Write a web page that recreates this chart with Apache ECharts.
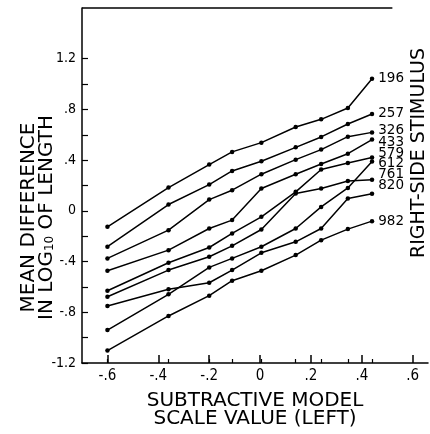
<!DOCTYPE html>
<html>
<head>
<meta charset="utf-8">
<script src="https://cdn.jsdelivr.net/npm/echarts@6/dist/echarts.min.js"></script>
<style>
  html, body { margin: 0; padding: 0; background: #fff; }
  #chart { width: 430px; height: 434px; }
</style>
</head>
<body>
<div id="chart"></div>
<script>
  // subtractive model scale value of each left stimulus
  var xValues = [-0.6, -0.36, -0.2, -0.11, 0.005, 0.14, 0.24, 0.345, 0.44];
  var stimuli = ['196', '257', '326', '433', '579', '612', '761', '820', '982'];

  var s196 = [-0.126, 0.184, 0.365, 0.465, 0.538, 0.661, 0.722, 0.811, 1.042];
  var s257 = [-0.283, 0.05, 0.207, 0.315, 0.391, 0.501, 0.583, 0.685, 0.764];
  var s326 = [-0.375, -0.152, 0.089, 0.163, 0.289, 0.404, 0.483, 0.585, 0.619];
  var s433 = [-0.472, -0.31, -0.139, -0.073, 0.176, 0.289, 0.37, 0.451, 0.562];
  var s579 = [-0.63, -0.409, -0.289, -0.178, -0.047, 0.15, 0.326, 0.378, 0.42];
  var s612 = [-0.94, -0.658, -0.446, -0.375, -0.283, -0.139, 0.031, 0.181, 0.39];
  var s761 = [-0.677, -0.467, -0.362, -0.276, -0.147, 0.137, 0.176, 0.235, 0.245];
  var s820 = [-0.751, -0.618, -0.567, -0.467, -0.331, -0.244, -0.139, 0.098, 0.135];
  var s982 = [-1.102, -0.829, -0.669, -0.551, -0.472, -0.349, -0.231, -0.144, -0.081];
  var meanDiff = [s196, s257, s326, s433, s579, s612, s761, s820, s982];

  var xTickValues = [-0.6, -0.4, -0.2, 0, 0.2, 0.4, 0.6];
  var yLabelValues = [-1.2, -0.8, -0.4, 0, 0.4, 0.8, 1.2];
  var yTickValues = [-1.2, -1.0, -0.8, -0.6, -0.4, -0.2, 0, 0.2, 0.4, 0.6, 0.8, 1.0, 1.2];

  // vertical nudge (px) of the end labels so the stacked names do not collide
  var labelNudge = [0, 0, -2, 2.5, -4.5, 2.5, -5, -8, 0];

  function fmt(v) {
    if (Math.abs(v) < 1e-9) return '0';
    return String(+v.toFixed(1)).replace('0.', '.');
  }

  var chart = echarts.init(document.getElementById('chart'));
  var font = 'DejaVu Sans, sans-serif';
  var narrow = 'Liberation Sans Narrow, DejaVu Sans Condensed, DejaVu Sans, sans-serif';

  var series = stimuli.map(function (name, k) {
    var ys = meanDiff[k];
    return {
      name: name,
      type: 'line',
      symbol: 'circle',
      symbolSize: 4.5,
      animation: false,
      lineStyle: { color: '#000', width: 1.5 },
      itemStyle: { color: '#000' },
      data: xValues.map(function (x, i) {
        var item = { value: [x, ys[i]] };
        if (i === xValues.length - 1) {
          item.label = {
            show: true,
            position: 'right',
            distance: 4,
            offset: [0, labelNudge[k]],
            formatter: name,
            color: '#000',
            fontFamily: font,
            fontSize: 13.5,
            lineHeight: 11
          };
        }
        return item;
      })
    };
  });

  chart.setOption({
    backgroundColor: '#fff',
    animation: false,
    grid: { left: 82, right: 2, top: 8, bottom: 71 },
    xAxis: [{
      type: 'value',
      min: -0.7,
      max: 0.66,
      axisLine: { onZero: false, lineStyle: { color: '#000', width: 1.5 } },
      axisTick: { inside: true, length: 8, customValues: xTickValues, lineStyle: { color: '#000', width: 1.5 } },
      axisLabel: { customValues: xTickValues, formatter: fmt, color: '#000', fontFamily: narrow, fontSize: 15, margin: 6 },
      splitLine: { show: false },
      name: 'SUBTRACTIVE MODEL\nSCALE VALUE (LEFT)',
      nameLocation: 'middle',
      nameGap: 29,
      nameMoveOverlap: false,
      nameTextStyle: { color: '#000', fontFamily: font, fontSize: 20, lineHeight: 18 }
    }, {
      type: 'value',
      min: -0.7,
      max: 0.66,
      position: 'bottom',
      axisLine: { show: false, onZero: false },
      axisTick: { inside: true, length: 4, customValues: xValues, lineStyle: { color: '#000', width: 1.2 } },
      axisLabel: { show: false },
      splitLine: { show: false }
    }],
    yAxis: {
      type: 'value',
      min: -1.2,
      max: 1.6,
      axisLine: { show: true, onZero: false, lineStyle: { color: '#000', width: 1.5 } },
      axisTick: { show: true, inside: true, length: 6, customValues: yTickValues, lineStyle: { color: '#000', width: 1.2 } },
      axisLabel: { customValues: yLabelValues, formatter: fmt, color: '#000', fontFamily: narrow, fontSize: 14, margin: 6 },
      splitLine: { show: false },
      name: 'MEAN DIFFERENCE\nIN LOG{sub|10} OF LENGTH',
      nameLocation: 'middle',
      nameGap: 26,
      nameMoveOverlap: false,
      nameTextStyle: {
        color: '#000', fontFamily: font, fontSize: 20, lineHeight: 18,
        padding: [0, 64, 0, 0],
        rich: { sub: { fontFamily: font, fontSize: 12, verticalAlign: 'bottom', padding: [9, 0, 0, 0] } }
      }
    },
    series: series
  });

  var p0 = chart.convertToPixel({ gridIndex: 0 }, [-0.7, 1.6]);
  var p1 = chart.convertToPixel({ gridIndex: 0 }, [0.52, 1.6]);
  chart.setOption({
    graphic: [{
      type: 'line',
      shape: { x1: p0[0], y1: p0[1], x2: p1[0], y2: p1[1] },
      style: { stroke: '#000', lineWidth: 1.5 }
    }, {
      type: 'text',
      x: 419,
      y: 153,
      rotation: Math.PI / 2,
      style: {
        text: 'RIGHT-SIDE STIMULUS',
        fill: '#000',
        font: '19px DejaVu Sans',
        align: 'center',
        verticalAlign: 'middle'
      }
    }]
  });
</script>
</body>
</html>
